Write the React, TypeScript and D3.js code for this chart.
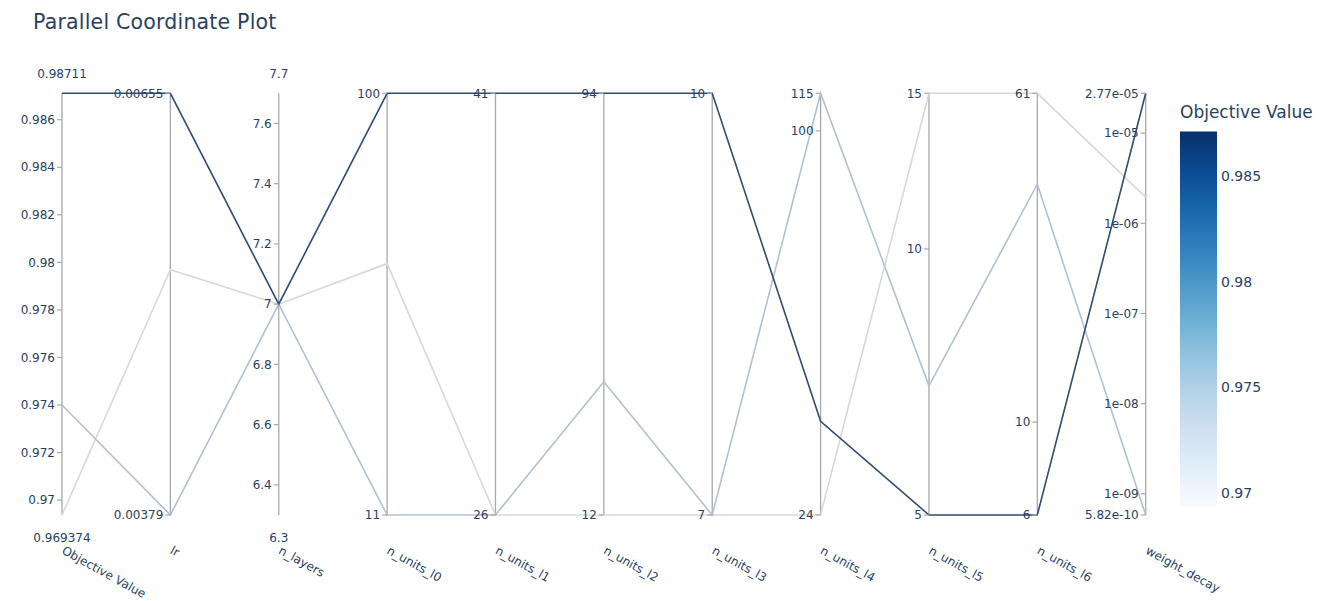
import React from "react";
import * as d3 from "d3";

const W = 1317;
const H = 601;

// Trials (one entry per trial, same order in every array)
const objectiveValue = [0.98711, 0.974, 0.969374];
const lr = [0.00655, 0.00379, 0.00521];
const nLayers = [7, 7, 7];
const nUnitsL0 = [100, 11, 41];
const nUnitsL1 = [41, 26, 26];
const nUnitsL2 = [94, 23, 12];
const nUnitsL3 = [10, 7, 7];
const nUnitsL4 = [34, 115, 24];
const nUnitsL5 = [5, 7, 15];
const nUnitsL6 = [6, 37, 61];
const weightDecay = [2.77e-5, 5.82e-10, 1.95e-6];

// Axis tick values and their labels
const objTicks = [0.97, 0.972, 0.974, 0.976, 0.978, 0.98, 0.982, 0.984, 0.986];
const objTickText = ["0.97", "0.972", "0.974", "0.976", "0.978", "0.98", "0.982", "0.984", "0.986"];
const layerDomain: [number, number] = [6.3, 7.7];
const layerTicks = [6.4, 6.6, 6.8, 7, 7.2, 7.4, 7.6];
const layerTickText = ["6.4", "6.6", "6.8", "7", "7.2", "7.4", "7.6"];
const lrTicks = [0.00379, 0.00655];
const lrTickText = ["0.00379", "0.00655"];
const l0Ticks = [11, 100];
const l1Ticks = [26, 41];
const l2Ticks = [12, 94];
const l3Ticks = [7, 10];
const l4Ticks = [24, 100, 115];
const l5Ticks = [5, 10, 15];
const l6Ticks = [6, 10, 61];
const wdTicks = [5.82e-10, 1e-9, 1e-8, 1e-7, 1e-6, 1e-5, 2.77e-5];
const wdTickText = ["5.82e-10", "1e-09", "1e-08", "1e-07", "1e-06", "1e-05", "2.77e-05"];
const colorbarTicks = [0.97, 0.975, 0.98, 0.985];

type Dim = {
  name: string;
  values: number[];
  log: boolean;
  domain?: [number, number];
  tickVals: number[];
  tickText: string[];
  rangeText?: [string, string];
};

const dims: Dim[] = [
  { name: "Objective Value", values: objectiveValue, log: false, tickVals: objTicks, tickText: objTickText, rangeText: ["0.969374", "0.98711"] },
  { name: "lr", values: lr, log: true, tickVals: lrTicks, tickText: lrTickText },
  { name: "n_layers", values: nLayers, log: false, domain: layerDomain, tickVals: layerTicks, tickText: layerTickText, rangeText: ["6.3", "7.7"] },
  { name: "n_units_l0", values: nUnitsL0, log: true, tickVals: l0Ticks, tickText: l0Ticks.map(String) },
  { name: "n_units_l1", values: nUnitsL1, log: true, tickVals: l1Ticks, tickText: l1Ticks.map(String) },
  { name: "n_units_l2", values: nUnitsL2, log: true, tickVals: l2Ticks, tickText: l2Ticks.map(String) },
  { name: "n_units_l3", values: nUnitsL3, log: true, tickVals: l3Ticks, tickText: l3Ticks.map(String) },
  { name: "n_units_l4", values: nUnitsL4, log: true, tickVals: l4Ticks, tickText: l4Ticks.map(String) },
  { name: "n_units_l5", values: nUnitsL5, log: true, tickVals: l5Ticks, tickText: l5Ticks.map(String) },
  { name: "n_units_l6", values: nUnitsL6, log: true, tickVals: l6Ticks, tickText: l6Ticks.map(String) },
  { name: "weight_decay", values: weightDecay, log: true, tickVals: wdTicks, tickText: wdTickText },
];

const FONT = "'DejaVu Sans', Verdana, sans-serif";
const TEXT = "#2a3f5f";
const AXIS = "#a8a8a8";

const plotTop = 93.3;
const plotBottom = 515;

export default function App() {
  const x = d3
    .scalePoint<string>()
    .domain(dims.map((d) => d.name))
    .range([62, 1145.7]);

  const yScales = dims.map((d) => {
    const dom = d.domain ?? (d3.extent(d.values) as [number, number]);
    return d.log
      ? d3.scaleLog().domain(dom).range([plotBottom, plotTop])
      : d3.scaleLinear().domain(dom).range([plotBottom, plotTop]);
  });

  const objExtent = d3.extent(objectiveValue) as [number, number];
  const tNorm = d3.scaleLinear().domain(objExtent).range([0, 1]);
  const lineColor = (v: number) =>
    d3.interpolateRgb(d3.interpolateBlues(tNorm(v)), "#8a8a8a")(0.3);

  // lighter trials first so the best one sits on top
  const trials = d3.range(objectiveValue.length).sort(
    (a, b) => objectiveValue[a] - objectiveValue[b]
  );

  const line = d3
    .line<[number, number]>()
    .x((p) => p[0])
    .y((p) => p[1]);

  // colour bar
  const cbX = 1180;
  const cbW = 37;
  const cbTop = 131.5;
  const cbBottom = 506.5;
  const cbY = d3.scaleLinear().domain(objExtent).range([cbBottom, cbTop]);
  const gradStops = d3.range(0, 1.0001, 0.1);

  return (
    <svg
      width={W}
      height={H}
      style={{ position: "absolute", left: 0, top: 0, background: "#fff" }}
      fontFamily={FONT}
    >
      <defs>
        <linearGradient id="cbGrad" x1="0" y1="1" x2="0" y2="0">
          {gradStops.map((t) => (
            <stop key={t} offset={t} stopColor={d3.interpolateBlues(t)} />
          ))}
        </linearGradient>
      </defs>

      <text x={33} y={28.5} fontSize={20.5} letterSpacing={0.2} fill={TEXT}>
        Parallel Coordinate Plot
      </text>

      {/* axis lines */}
      {dims.map((d) => (
        <line
          key={"ax" + d.name}
          x1={x(d.name)}
          x2={x(d.name)}
          y1={plotTop}
          y2={plotBottom}
          stroke={AXIS}
          strokeWidth={1.3}
        />
      ))}

      {/* trial lines */}
      {trials.map((i) => {
        const pts: [number, number][] = dims.map((d, k) => [
          x(d.name)!,
          yScales[k](d.values[i]),
        ]);
        return (
          <path
            key={"tr" + i}
            d={line(pts)!}
            fill="none"
            stroke={lineColor(objectiveValue[i])}
            strokeWidth={1.6}
          />
        );
      })}

      {/* ticks and labels */}
      {dims.map((d, k) => {
        const ax = x(d.name)!;
        const ys = yScales[k];
        return (
          <g key={"tk" + d.name}>
            {d.tickVals.map((v, j) => (
              <g key={j}>
                <line x1={ax - 5} x2={ax} y1={ys(v)} y2={ys(v)} stroke={AXIS} strokeWidth={1.2} />
                <text
                  x={ax - 7}
                  y={ys(v)}
                  dy="0.35em"
                  textAnchor="end"
                  fontSize={12}
                  fill={TEXT}
                >
                  {d.tickText[j]}
                </text>
              </g>
            ))}
            {d.rangeText && (
              <>
                <text x={ax} y={78} textAnchor="middle" fontSize={12} fill={TEXT}>
                  {d.rangeText[1]}
                </text>
                <text x={ax} y={541.5} textAnchor="middle" fontSize={12} fill={TEXT}>
                  {d.rangeText[0]}
                </text>
              </>
            )}
            <text
              transform={`translate(${ax - 1},${553}) rotate(29)`}
              fontSize={12}
              fill={TEXT}
            >
              {d.name}
            </text>
          </g>
        );
      })}

      {/* colour bar */}
      <text x={cbX} y={118} fontSize={17} fill={TEXT}>
        Objective Value
      </text>
      <rect x={cbX} y={cbTop} width={cbW} height={cbBottom - cbTop} fill="url(#cbGrad)" />
      {colorbarTicks.map((v) => (
        <text
          key={v}
          x={cbX + cbW + 4}
          y={cbY(v)}
          dy="0.35em"
          fontSize={14}
          fill={TEXT}
        >
          {String(v)}
        </text>
      ))}
    </svg>
  );
}
